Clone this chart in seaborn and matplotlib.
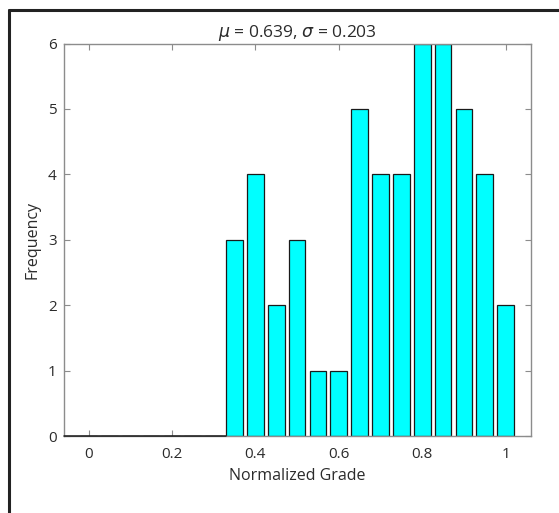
import numpy as np
import pandas as pd
import seaborn as sns
import matplotlib.pyplot as plt
from matplotlib.lines import Line2D

bin_centers = [0.0, 0.05, 0.1, 0.15, 0.2, 0.25, 0.3, 0.35, 0.4, 0.45, 0.5,
               0.55, 0.6, 0.65, 0.7, 0.75, 0.8, 0.85, 0.9, 0.95, 1.0]
counts = [0, 0, 0, 0, 0, 0, 0, 3, 4, 2, 3, 1, 1, 5, 4, 4, 6, 6, 5, 4, 2]
x_ticks = [0, 0.2, 0.4, 0.6, 0.8, 1.0]
x_tick_labels = ["0", "0.2", "0.4", "0.6", "0.8", "1"]
y_ticks = [0, 1, 2, 3, 4, 5, 6]

sns.set_theme(style="white")
plt.rcParams["font.family"] = ["Open Sans", "DejaVu Sans"]
plt.rcParams["mathtext.fontset"] = "dejavusans"

df = pd.DataFrame({"grade": bin_centers, "count": counts})

W, H = 559, 513
fig = plt.figure(figsize=(W / 100, H / 100), dpi=100)
ax = fig.add_axes([63.5 / W, 1 - 436 / H, (530.7 - 63.5) / W, (436 - 43.5) / H])

sns.barplot(data=df, x="grade", y="count", native_scale=True, width=0.8,
            color="#00ffff", saturation=1, edgecolor="#1a1a1a", linewidth=0.9, ax=ax)

xlo, xhi = -0.06, 1.06
ax.set_xlim(xlo, xhi)
ax.set_ylim(0, 6)
ax.set_xticks(x_ticks)
ax.set_xticklabels(x_tick_labels)
ax.set_yticks(y_ticks)

# dark baseline under the empty bins
first = next(g for g, c in zip(bin_centers, counts) if c > 0) - 0.02
ax.axhline(0, xmin=0, xmax=(first - xlo) / (xhi - xlo), color="#1a1a1a",
           linewidth=1.1, zorder=5, clip_on=False)

txt = "#2b2b2b"
for s in ax.spines.values():
    s.set_color("#8c8c8c")
    s.set_linewidth(1.0)
ax.tick_params(axis="both", which="both", direction="in", length=4, width=0.8,
               color="#8c8c8c", labelsize=11, labelcolor=txt,
               top=True, right=True, bottom=True, left=True)
ax.tick_params(axis="x", pad=8)
ax.tick_params(axis="y", pad=5)

ax.set_xlabel("Normalized Grade", fontsize=11.5, color=txt, labelpad=4)
ax.set_ylabel("Frequency", fontsize=11.5, color=txt)
ax.yaxis.set_label_coords(-0.05, 0.5)
ax.set_title(r"$\mu$ = 0.639, $\sigma$ = 0.203", fontsize=12.5, color=txt, pad=5)

# outer frame (left and top only visible)
fig.add_artist(Line2D([8.5 / W, 8.5 / W], [0, 1 - 9.5 / H], transform=fig.transFigure,
                      color="#222222", linewidth=2.2))
fig.add_artist(Line2D([8.5 / W, 1], [1 - 9.5 / H, 1 - 9.5 / H], transform=fig.transFigure,
                      color="#222222", linewidth=2.2))

fig.savefig("out.png", dpi=100)
